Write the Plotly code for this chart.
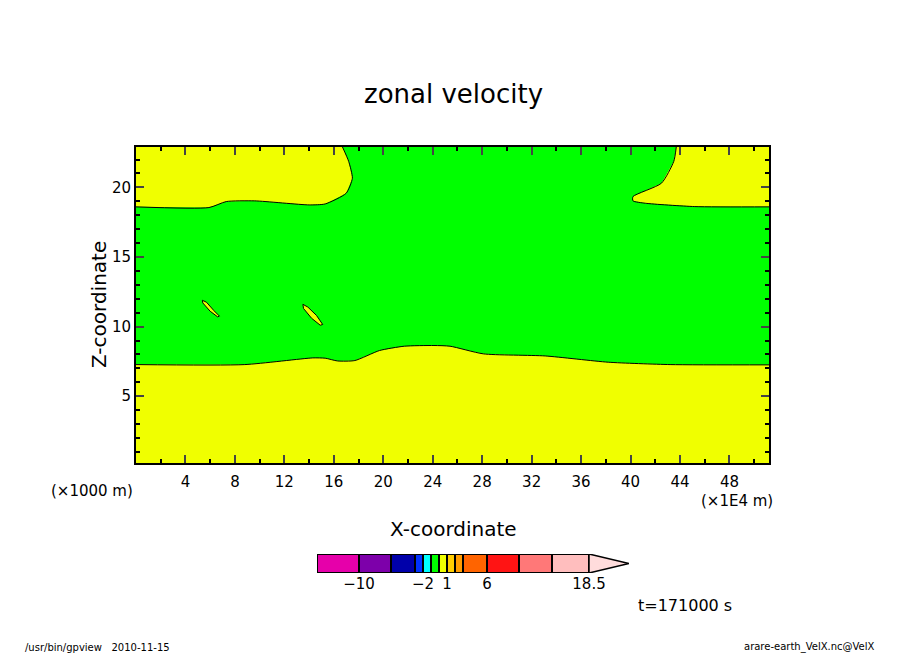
import plotly.graph_objects as go

# contour boundaries (x in 1E4 m units on axis, z-coordinate)
lower_x = [0, 8.8, 14.3, 15.3, 16.3, 17.7, 19.7, 21.7, 24.1, 25.4, 28.1, 33.1, 38.2, 43.2, 51.2]
lower_z = [7.27, 7.27, 7.75, 7.73, 7.53, 7.56, 8.28, 8.59, 8.64, 8.59, 8.04, 7.89, 7.44, 7.27, 7.25]
upleft_x = [0, 5.9, 7.3, 9.6, 14.0, 15.3, 17.0, 17.5, 17.2, 16.7]
upleft_z = [18.6, 18.55, 18.98, 19.03, 18.74, 18.81, 19.58, 20.66, 21.87, 22.9]
upright_x = [51.2, 45.2, 41.2, 40.2, 40.2, 42.5, 43.5, 43.7]
upright_z = [18.6, 18.62, 18.86, 19.03, 19.34, 20.3, 21.87, 22.9]
isl1_x = [5.37, 5.7, 6.3, 6.75, 6.6, 6.0, 5.4, 5.37]
isl1_z = [11.89, 11.75, 11.15, 10.75, 10.7, 11.1, 11.7, 11.89]
isl2_x = [13.5, 13.9, 14.6, 15.1, 14.9, 14.2, 13.55, 13.5]
isl2_z = [11.6, 11.4, 10.8, 10.15, 10.1, 10.6, 11.3, 11.6]

# colour bar
levels = [-14, -10, -6, -3, -2, -1, 0, 1, 2, 3, 6, 10, 14, 18.5]
bar_widths = [42, 32, 24, 8, 8, 8, 8, 8, 8, 24, 32, 33, 37]
bar_colors = ['#e600aa', '#7d00aa', '#0000aa', '#0032ff', '#00ffff', '#00ff00', '#f0ff00',
              '#ffcd00', '#ff9b00', '#ff6400', '#ff1414', '#ff7878', '#ffbebe']
cb_labels = {-10: '−10', -2: '−2', 1: '1', 6: '6', 18.5: '18.5'}

X0, X1, Z0, Z1 = 0, 51.2, 0.2, 22.9
font = 'DejaVu Sans'
W, H = 904, 654
D = 7  # page offset of the plot div in the browser


def px(v):
    return (v - D) / W


def py(v):
    return 1 - (v - D) / H


fig = go.Figure()

# green band between the contour lines, yellow elsewhere
band_x = lower_x + upright_x + upleft_x[::-1]
band_z = lower_z + upright_z + upleft_z[::-1]
fig.add_shape(type='rect', x0=X0, x1=X1, y0=Z0, y1=Z1, xref='x', yref='y',
              fillcolor='#f0ff00', line=dict(width=0), layer='below')
fig.add_trace(go.Scatter(x=band_x, y=band_z, fill='toself', fillcolor='#00ff00',
                         mode='lines', line=dict(color='rgba(0,0,0,0)', width=0),
                         hoverinfo='skip'))
for ix, iz in [(isl1_x, isl1_z), (isl2_x, isl2_z)]:
    fig.add_trace(go.Scatter(x=ix, y=iz, fill='toself', fillcolor='#f0ff00',
                             mode='lines', line=dict(color='black', width=1), hoverinfo='skip'))
for cx, cz in [(lower_x, lower_z), (upleft_x, upleft_z), (upright_x, upright_z)]:
    fig.add_trace(go.Scatter(x=cx, y=cz, mode='lines',
                             line=dict(color='black', width=1, shape='spline', smoothing=0.6),
                             hoverinfo='skip'))

# colour bar as a stacked horizontal bar
edges = [0]
for w in bar_widths:
    edges.append(edges[-1] + w)
for i, w in enumerate(bar_widths):
    fig.add_trace(go.Bar(x=[w], y=[0], base=[edges[i]], orientation='h', width=1,
                         marker=dict(color=bar_colors[i], line=dict(color='black', width=2)),
                         xaxis='x2', yaxis='y2', hoverinfo='skip'))
fig.add_trace(go.Scatter(x=[edges[-1], edges[-1] + 40, edges[-1], edges[-1]],
                         y=[0.5, 0, -0.5, 0.5], fill='toself', fillcolor='#ffdcdc',
                         mode='lines', line=dict(color='black', width=1.5),
                         xaxis='x2', yaxis='y2', hoverinfo='skip'))
tickvals = [edges[levels.index(v)] for v in cb_labels]

fig.update_layout(
    width=W, height=H, margin=dict(l=0, r=0, t=0, b=0),
    paper_bgcolor='white', plot_bgcolor='white', showlegend=False, barmode='overlay',
    font=dict(family=font, color='black'),
    xaxis=dict(domain=[px(135), px(768)], range=[X0, X1], tickvals=list(range(4, 49, 4)),
               ticks='inside', ticklen=8, tickwidth=1.5, mirror='allticks', showline=True,
               linecolor='black', linewidth=2, showgrid=False, zeroline=False,
               minor=dict(dtick=2, tick0=0, ticks='inside', ticklen=4, tickcolor='black'),
               tickfont=dict(size=15), ticklabelstandoff=4),
    yaxis=dict(domain=[py(462), py(146)], range=[Z0, Z1], tickvals=[5, 10, 15, 20],
               ticks='inside', ticklen=8, tickwidth=1.5, mirror='allticks', showline=True,
               linecolor='black', linewidth=2, showgrid=False, zeroline=False,
               minor=dict(dtick=1, tick0=0, ticks='inside', ticklen=4, tickcolor='black'),
               tickfont=dict(size=15)),
    xaxis2=dict(domain=[px(316), px(628)], range=[0, edges[-1] + 40], anchor='y2',
                tickvals=tickvals, ticktext=list(cb_labels.values()), showgrid=False,
                zeroline=False, showline=False, tickfont=dict(size=15), ticks=''),
    yaxis2=dict(domain=[py(572), py(553)], range=[-0.5, 0.5], anchor='x2', visible=False),
)

ann = [
    (452, 93, 'zonal velocity', 26, 'center'),
    (452, 528, 'X-coordinate', 20, 'center'),
    (48, 490, '(×1000 m)', 15, 'left'),
    (698, 500, '(×1E4 m)', 15, 'left'),
    (635, 604, 't=171000 s', 16, 'left'),
    (22, 646, '/usr/bin/gpview   2010-11-15', 10, 'left'),
    (876, 646, 'arare-earth_VelX.nc@VelX', 10, 'right'),
]
for x, y, txt, size, align in ann:
    fig.add_annotation(x=px(x), y=py(y), xref='paper', yref='paper', text=txt,
                       showarrow=False, xanchor=align, yanchor='middle',
                       font=dict(size=size, family=font))
fig.add_annotation(x=px(84), y=py(304), xref='paper', yref='paper', text='Z-coordinate',
                   textangle=-90, showarrow=False, font=dict(size=20, family=font))

fig.write_html("out.html")
